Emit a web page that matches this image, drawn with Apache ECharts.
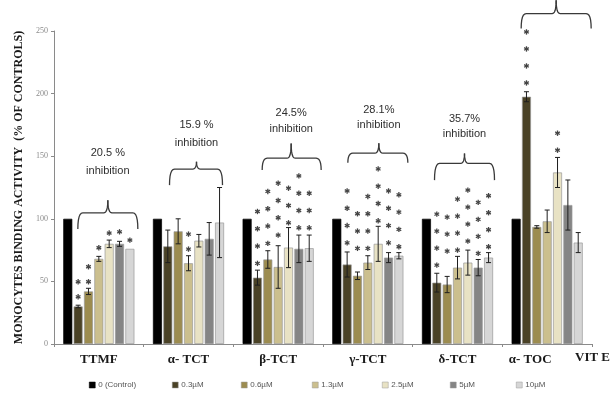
<!DOCTYPE html>
<html><head><meta charset="utf-8">
<script src="https://cdn.jsdelivr.net/npm/echarts@6/dist/echarts.min.js"></script>
<style>html,body{margin:0;padding:0;background:#fff}#c{width:614px;height:399px}</style>
</head><body><div id="c"></div>
<script>
// ---------- DATA ----------
const categories = ['TTMF', 'α- TCT', 'β-TCT', 'γ-TCT', 'δ-TCT', 'α- TOC'];
const doses = ['0 (Control)', '0.3µM', '0.6µM', '1.3µM', '2.5µM', '5µM', '10µM'];
const yTicks = [0, 50, 100, 150, 200, 250];

// mean values (% of controls), one array per dose, across categories
const vControl = [100, 100, 100, 100, 100, 100];
const v03 = [30, 78, 53, 63.5, 49, 197.5];
const v06 = [42, 90, 67.5, 54.5, 47.5, 93.5];
const v13 = [68, 64.5, 61.5, 65, 61, 98];
const v25 = [80, 82.5, 77, 80, 65, 137];
const v5  = [80, 84, 76, 69, 61, 111];
const v10 = [76, 97, 76.5, 70.5, 69, 81];

// error (+/-)
const eControl = [0, 0, 0, 0, 0, 0];
const e03 = [1, 13, 6, 10, 7.5, 4];
const e06 = [2.5, 10, 7, 3, 6.5, 1];
const e13 = [2, 6, 17, 5.5, 9, 9];
const e25 = [3, 5, 16, 14, 10, 12];
const e5  = [2, 13, 11, 4, 6.5, 20];
const e10 = [0, 28, 10.5, 2.5, 4, 8];

// significance stars: count and value of lowest star
const starN03 = [2, 0, 4, 4, 4, 4];  const starB03 = [37.7, 0, 64.4, 80.8, 63, 208.5];
const starN06 = [2, 0, 4, 3, 3, 0];  const starB06 = [49.7, 0, 80.4, 76.4, 74.2, 0];
const starN13 = [1, 2, 4, 4, 4, 0];  const starB13 = [76.9, 75.8, 87, 76.4, 75, 0];
const starN25 = [1, 0, 3, 4, 4, 2];  const starB25 = [88.6, 0, 96.8, 98.4, 82.2, 154.8];
const starN5  = [1, 0, 4, 4, 4, 0];  const starB5  = [89.6, 0, 92.8, 80.8, 72.4, 0];
const starN10 = [1, 0, 3, 4, 4, 0];  const starB10 = [83, 0, 92.8, 77.7, 77.7, 0];

// inhibition annotations
const inhibitionPct = ['20.5 %', '15.9 %', '24.5%', '28.1%', '35.7%', ''];
const pctLevel = [152.2, 174.8, 184.4, 186.8, 180.1, null];
const inhibitionLevel = [138.3, 160.2, 171.6, 174.8, 167.4, null];
const braceTip = [114.9, 145.5, 160.2, 160.4, 152.2, 274.5];
const braceMid = [104.8, 139.7, 148.4, 152.4, 144.2, 263.9];
const braceEnd = [91.8, 126.9, 138.9, 144.7, 130.9, 252];

// ---------- STYLE ----------
const colors = ['#000000', '#4a4226', '#9c8c50', '#cbbf8e', '#e8e2c4', '#858585', '#d6d6d6'];
const BW = 9, GAP = 0.15;
const braceLeftPx = [-21, -19, -16, -20, -23, -26];
const braceRightPx = [39, 34, 43, 40, 37, 44];
const braceTipPx = [9, 8, 13, 11, 7, 9];
const starGapPx = [15, 15, 17.3, 17.3, 17, 17];
const legendX = [89, 172, 241, 312, 382, 450, 516];

const values = [vControl, v03, v06, v13, v25, v5, v10];
const errors = [eControl, e03, e06, e13, e25, e5, e10];
const starN = [null, starN03, starN06, starN13, starN25, starN5, starN10];
const starB = [null, starB03, starB06, starB13, starB25, starB5, starB10];

function barX(api, cat, k) {
  const c = api.coord([cat, 0]);
  const total = 7 * BW * (1 + GAP) - BW * GAP;
  return c[0] - total / 2 + k * BW * (1 + GAP) + BW / 2;
}

const errData = [], starData = [], braceData = [];
for (let k = 0; k < 7; k++) for (let c = 0; c < categories.length; c++) {
  if (errors[k][c] > 0) errData.push([c, k, values[k][c], errors[k][c]]);
  if (starN[k] && starN[k][c] > 0) starData.push([c, k, starB[k][c], starN[k][c]]);
}
for (let c = 0; c < categories.length; c++) braceData.push([c, braceTip[c], braceMid[c], braceEnd[c]]);

function quad(p0, p1, p2, n) {
  const pts = [];
  for (let i = 0; i <= n; i++) {
    const t = i / n, a = (1 - t) * (1 - t), b = 2 * (1 - t) * t, d = t * t;
    pts.push([a * p0[0] + b * p1[0] + d * p2[0], a * p0[1] + b * p1[1] + d * p2[1]]);
  }
  return pts;
}

const serif = '"Liberation Serif","Times New Roman",serif';
const series = [];
for (let k = 0; k < 7; k++) {
  series.push({
    type: 'bar', name: doses[k], data: values[k], barWidth: BW, barGap: (GAP * 100) + '%',
    itemStyle: { color: colors[k], borderColor: k === 0 ? '#000' : '#9a9a9a', borderWidth: 0.7 },
    emphasis: { disabled: true }, z: 2
  });
}
series.push({
  type: 'custom', name: 'err', data: errData, z: 5, clip: false, silent: true,
  renderItem: function (params, api) {
    const cat = api.value(0), k = api.value(1), v = api.value(2), e = api.value(3);
    const x = barX(api, cat, k);
    const y1 = api.coord([cat, v + e])[1], y2 = api.coord([cat, v - e])[1];
    const st = { stroke: '#1e1e1e', lineWidth: 1 };
    return { type: 'group', children: [
      { type: 'line', shape: { x1: x, y1: y1, x2: x, y2: y2 }, style: st },
      { type: 'line', shape: { x1: x - 2.5, y1: y1, x2: x + 2.5, y2: y1 }, style: st },
      { type: 'line', shape: { x1: x - 2.5, y1: y2, x2: x + 2.5, y2: y2 }, style: st }
    ]};
  }
});
series.push({
  type: 'custom', name: 'stars', data: starData, z: 5, clip: false, silent: true,
  renderItem: function (params, api) {
    const cat = api.value(0), k = api.value(1), b = api.value(2), n = api.value(3);
    const x = barX(api, cat, k);
    const y0 = api.coord([cat, b])[1];
    const ch = [];
    const r = 2.7;
    for (let i = 0; i < n; i++) {
      const y = y0 - i * starGapPx[cat];
      for (let a = 0; a < 3; a++) {
        const ang = Math.PI / 2 + a * Math.PI / 3;
        ch.push({ type: 'line', shape: { x1: x - r * Math.cos(ang), y1: y - r * Math.sin(ang), x2: x + r * Math.cos(ang), y2: y + r * Math.sin(ang) },
          style: { stroke: '#454545', lineWidth: 1.3 } });
      }
    }
    return { type: 'group', children: ch };
  }
});
series.push({
  type: 'custom', name: 'braces', data: braceData, z: 6, clip: false, silent: true,
  renderItem: function (params, api) {
    const cat = api.value(0);
    const cx = api.coord([cat, 0])[0];
    const yT = api.coord([cat, api.value(1)])[1];
    const yH = api.coord([cat, api.value(2)])[1];
    const yE = api.coord([cat, api.value(3)])[1];
    const l = cx + braceLeftPx[cat], r = cx + braceRightPx[cat], t = cx + braceTipPx[cat];
    const rad = Math.min(5, (yE - yH));
    let pts = [];
    pts = pts.concat(quad([l, yE], [l, yH], [l + rad, yH], 6));
    pts = pts.concat(quad([t - 4, yH], [t, yH], [t, yT], 6));
    const st = { stroke: '#3a3a3a', lineWidth: 1.3, fill: null };
    let pts2 = [];
    pts2 = pts2.concat(quad([t, yT], [t, yH], [t + 4, yH], 6));
    pts2 = pts2.concat(quad([r - rad, yH], [r, yH], [r, yE], 6));
    const ch = [
      { type: 'polyline', shape: { points: pts }, style: st },
      { type: 'polyline', shape: { points: pts2 }, style: st }
    ];
    if (inhibitionPct[cat]) {
      const ty1 = api.coord([cat, pctLevel[cat]])[1];
      const ty2 = api.coord([cat, inhibitionLevel[cat]])[1];
      const ts = { fill: '#2e2e2e', fontSize: 11, fontFamily: '"Liberation Sans",Arial,sans-serif', align: 'center', verticalAlign: 'middle' };
      ch.push({ type: 'text', x: t, y: ty1, style: Object.assign({ text: inhibitionPct[cat] }, ts) });
      ch.push({ type: 'text', x: t, y: ty2, style: Object.assign({ text: 'inhibition' }, ts) });
    }
    return { type: 'group', children: ch };
  }
});

const legends = doses.map(function (d, i) {
  return {
    data: [d], left: legendX[i], top: 381, itemWidth: 6, itemHeight: 6, icon: 'rect', itemGap: 0,
    selectedMode: false, padding: 0,
    itemStyle: { borderWidth: 0.5 },
    textStyle: { fontSize: 8, color: '#555', fontFamily: '"Liberation Sans",Arial,sans-serif', padding: [0, 0, 0, -2] }
  };
});

const chart = echarts.init(document.getElementById('c'), null, { renderer: 'canvas' });
chart.setOption({
  animation: false,
  backgroundColor: '#ffffff',
  grid: { left: 54, right: 22, top: 31, bottom: 55, containLabel: false },
  legend: legends,
  xAxis: {
    type: 'category', data: categories,
    axisLine: { lineStyle: { color: '#8a8a8a', width: 1 } },
    axisTick: { show: true, length: 3, lineStyle: { color: '#8a8a8a' } },
    axisLabel: {
      margin: 9, color: '#1a1a1a', fontFamily: serif, fontWeight: 'bold', fontSize: 13,
      formatter: function (v, i) { return i === 5 ? '{s|' + v + '}' : v; },
      rich: { s: { padding: [0, 34, 0, 0], color: '#1a1a1a', fontFamily: serif, fontWeight: 'bold', fontSize: 13 } }
    }
  },
  yAxis: {
    type: 'value', min: yTicks[0], max: yTicks[yTicks.length - 1], interval: 50,
    name: 'MONOCYTES BINDING ACTIVITY  (% OF CONTROLS)', nameLocation: 'middle', nameGap: 27, nameRotate: 90,
    nameTextStyle: { fontFamily: serif, fontWeight: 'bold', fontSize: 12, color: '#1a1a1a' },
    axisLine: { show: true, lineStyle: { color: '#8a8a8a', width: 1 } },
    axisTick: { show: true, length: 3, lineStyle: { color: '#8a8a8a' } },
    splitLine: { show: false },
    axisLabel: { margin: 6, color: '#8a8a8a', fontFamily: serif, fontSize: 8 }
  },
  graphic: [{
    type: 'text', left: 575, top: 351,
    style: { text: 'VIT E', fill: '#1a1a1a', font: 'bold 13px "Liberation Serif","Times New Roman",serif' }
  }],
  series: series
});
</script>
</body></html>
